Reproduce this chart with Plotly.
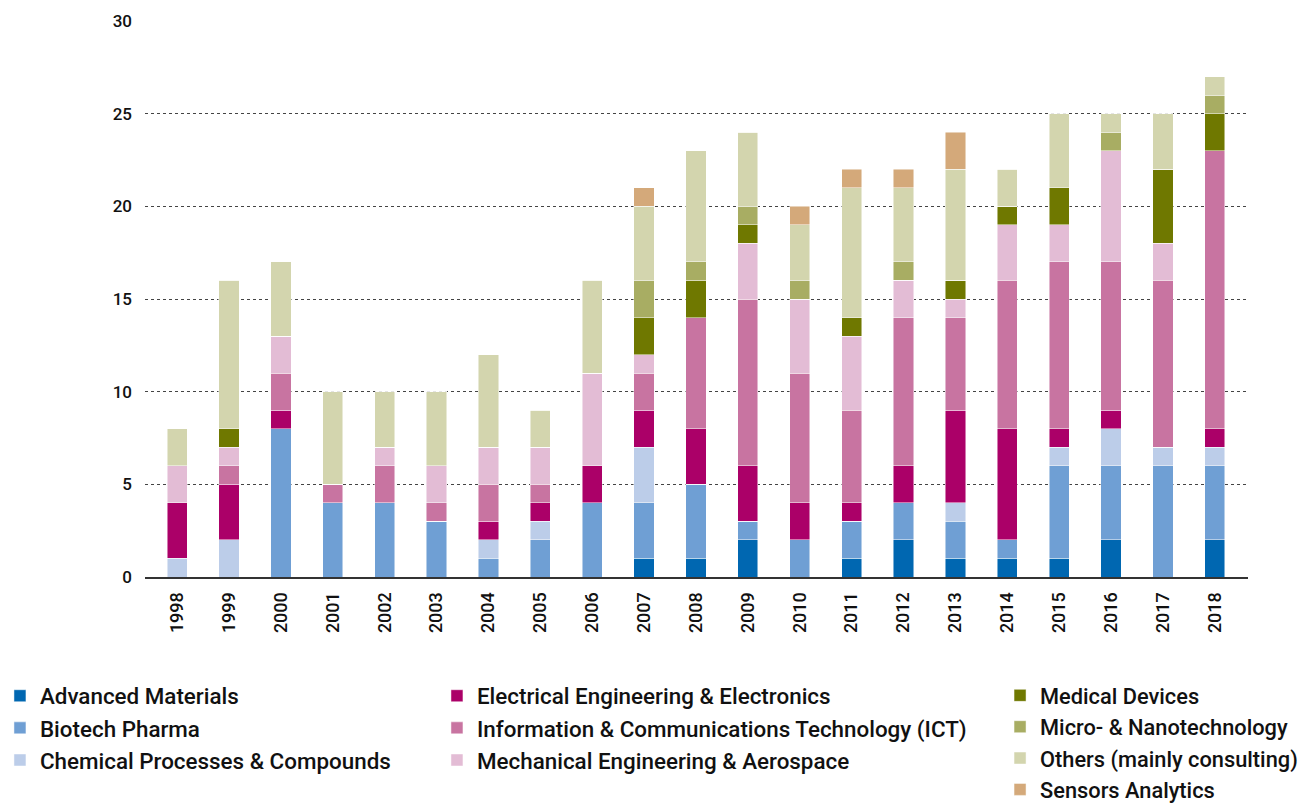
import plotly.graph_objects as go

years = [str(y) for y in range(1998, 2019)]

advanced_materials = [0, 0, 0, 0, 0, 0, 0, 0, 0, 1, 1, 2, 0, 1, 2, 1, 1, 1, 2, 0, 2]
biotech_pharma     = [0, 0, 8, 4, 4, 3, 1, 2, 4, 3, 4, 1, 2, 2, 2, 2, 1, 5, 4, 6, 4]
chemical           = [1, 2, 0, 0, 0, 0, 1, 1, 0, 3, 0, 0, 0, 0, 0, 1, 0, 1, 2, 1, 1]
electrical         = [3, 3, 1, 0, 0, 0, 1, 1, 2, 2, 3, 3, 2, 1, 2, 5, 6, 1, 1, 0, 1]
ict                = [0, 1, 2, 1, 2, 1, 2, 1, 0, 2, 6, 9, 7, 5, 8, 5, 8, 9, 8, 9, 15]
mechanical         = [2, 1, 2, 0, 1, 2, 2, 2, 5, 1, 0, 3, 4, 4, 2, 1, 3, 2, 6, 2, 0]
medical_devices    = [0, 1, 0, 0, 0, 0, 0, 0, 0, 2, 2, 1, 0, 1, 0, 1, 1, 2, 0, 4, 2]
micro_nano         = [0, 0, 0, 0, 0, 0, 0, 0, 0, 2, 1, 1, 1, 0, 1, 0, 0, 0, 1, 0, 1]
others             = [2, 8, 4, 5, 3, 4, 5, 2, 5, 4, 6, 4, 3, 7, 4, 6, 2, 4, 1, 3, 1]
sensors            = [0, 0, 0, 0, 0, 0, 0, 0, 0, 1, 0, 0, 1, 1, 1, 2, 0, 0, 0, 0, 0]

series = [
    ("Advanced Materials", advanced_materials, "#0067b1", "legend"),
    ("Biotech Pharma", biotech_pharma, "#6f9fd4", "legend"),
    ("Chemical Processes & Compounds", chemical, "#bccde9", "legend"),
    ("Electrical Engineering & Electronics", electrical, "#ab0068", "legend2"),
    ("Information & Communications Technology (ICT)", ict, "#c874a1", "legend2"),
    ("Mechanical Engineering & Aerospace", mechanical, "#e3bcd5", "legend2"),
    ("Medical Devices", medical_devices, "#6f7800", "legend3"),
    ("Micro- & Nanotechnology", micro_nano, "#a8ad63", "legend3"),
    ("Others (mainly consulting)", others, "#d3d5ae", "legend3"),
    ("Sensors Analytics", sensors, "#d4a97a", "legend3"),
]

FONT = "Roboto"
fig = go.Figure()
for name, vals, color, lg in series:
    fig.add_trace(go.Bar(
        x=years, y=vals, name=name, legend=lg, legendgroup=name,
        marker=dict(color=color, line=dict(color="rgba(255,255,255,0.6)", width=0.8)),
        width=0.39,
    ))

def legend_style(x, size):
    return dict(
        x=x, y=-0.1757,
        orientation="v", xanchor="left", yanchor="top", yref="paper", xref="paper",
        font=dict(family=FONT, size=size, color="#111", weight=500),
        tracegroupgap=10.0, itemwidth=30, bgcolor="rgba(0,0,0,0)",
        traceorder="normal",
    )

fig.update_layout(
    barmode="stack",
    width=1312, height=804,
    margin=dict(l=137, r=72, t=13, b=235, autoexpand=False),
    plot_bgcolor="white", paper_bgcolor="white",
    font=dict(family=FONT, color="#111"),
    legend=legend_style(-0.1315, 22.4),
    legend2=legend_style(0.2647, 22.4),
    legend3=legend_style(0.7752, 21.8),
    xaxis=dict(
        type="category", range=[-0.62, 20.64], tickangle=-90,
        tickfont=dict(family=FONT, size=18, color="#111", weight=500),
        showline=True, linecolor="#333", linewidth=2, showgrid=False,
        ticks="", ticklabelstandoff=6,
    ),
    yaxis=dict(
        range=[0, 30], tickvals=[0, 5, 10, 15, 20, 25, 30],
        tickfont=dict(family=FONT, size=17, color="#111", weight=500),
        showgrid=True, gridcolor="#444", griddash="dot", gridwidth=1,
        zeroline=False, ticks="", ticklabelstandoff=12,
    ),
)

fig.write_html("out.html")
